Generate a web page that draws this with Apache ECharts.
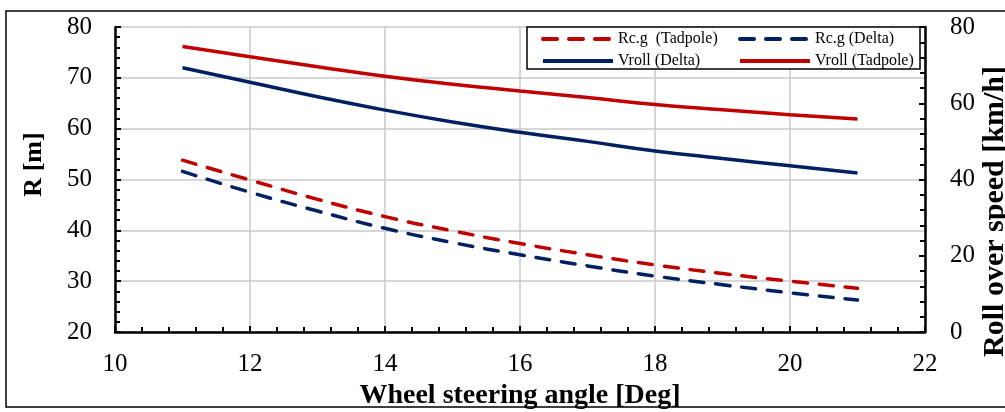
<!DOCTYPE html>
<html>
<head>
<meta charset="utf-8">
<script src="https://cdn.jsdelivr.net/npm/echarts@6/dist/echarts.min.js"></script>
<style>
  html, body { margin: 0; padding: 0; background: #fff; }
  #chart { width: 1005px; height: 412px; }
</style>
</head>
<body>
<div id="chart"></div>
<script>
// steering angle [deg]
const angles = [11, 12, 13, 14, 15, 16, 17, 18, 19, 20, 21]
// R [m] - left axis
const rcgTadpole = [53.8, 49.9, 46.1, 42.7, 39.9, 37.4, 35.2, 33.2, 31.5, 30.0, 28.6]
const rcgDelta = [51.6, 47.5, 43.8, 40.4, 37.6, 35.2, 33.0, 31.0, 29.3, 27.7, 26.3]
// roll over speed [km/h] - right axis
const vrollDelta = [69.3, 65.5, 61.7, 58.2, 55.1, 52.4, 50.0, 47.5, 45.5, 43.6, 41.7]
const vrollTadpole = [74.9, 72.2, 69.6, 67.1, 65.0, 63.2, 61.5, 59.7, 58.3, 57.0, 55.9]

const RED = '#C00000'
const NAVY = '#002060'
const FONT = '"Liberation Serif", "Times New Roman", serif'

const pairs = (ys) => angles.map((x, i) => [x, ys[i]])

const chart = echarts.init(document.getElementById('chart'))

const legendBase = {
  orient: 'horizontal',
  padding: 0,
  itemWidth: 70,
  itemHeight: 14,
  itemGap: 0,
  z: 20,
  selectedMode: false,
  itemStyle: { opacity: 0 }, // hide the circle, keep only the line sample
  lineStyle: { width: 4 },
  textStyle: { fontFamily: FONT, fontSize: 16, color: '#000' }
}

const axisLabel = { fontFamily: FONT, fontSize: 25, color: '#000' }
const axisName = { fontFamily: FONT, fontWeight: 'bold', color: '#000' }
const tickStyle = { color: '#000', width: 2 }

const option = {
  animation: false,
  backgroundColor: '#fff',
  grid: { left: 115, right: 80, top: 27, bottom: 80, outerBoundsMode: 'none' },
  legend: [
    { ...legendBase, left: 541, top: 31, data: ['Rc.g  (Tadpole)'] },
    { ...legendBase, left: 738, top: 31, data: ['Rc.g (Delta)'] },
    { ...legendBase, left: 541, top: 53, data: ['Vroll (Delta)'] },
    { ...legendBase, left: 738, top: 53, data: ['Vroll (Tadpole)'] }
  ],
  graphic: [
    {
      type: 'rect',
      z: 0,
      shape: { x: 6, y: 11, width: 1010, height: 396 },
      style: { fill: 'none', stroke: '#000', lineWidth: 1.5 },
      silent: true
    },
    {
      type: 'rect',
      z: 10,
      shape: { x: 527, y: 27, width: 393, height: 42 },
      style: { fill: '#fff', stroke: '#000', lineWidth: 1.5 },
      silent: true
    }
  ],
  xAxis: {
    type: 'value',
    min: 10,
    max: 22,
    interval: 2,
    name: 'Wheel steering angle [Deg]',
    nameLocation: 'middle',
    nameGap: 44,
    nameTextStyle: { ...axisName, fontSize: 28 },
    axisLine: { lineStyle: { color: '#000', width: 2.5 } },
    axisTick: { inside: true, length: 6, lineStyle: tickStyle },
    minorTick: { show: true, splitNumber: 5, length: 5, lineStyle: tickStyle },
    axisLabel: { ...axisLabel, margin: 20 },
    splitLine: { show: true, lineStyle: { color: '#c8c8c8', width: 1.5 } }
  },
  yAxis: [
    {
      type: 'value',
      min: 20,
      max: 80,
      interval: 10,
      name: 'R [m]',
      nameLocation: 'middle',
      nameGap: 68,
      nameTextStyle: { ...axisName, fontSize: 26, padding: [0, 0, 0, 30] },
      axisLine: { show: true, lineStyle: { color: '#000', width: 2.5 } },
      axisTick: { show: true, inside: true, length: 6, lineStyle: tickStyle },
      minorTick: { show: true, splitNumber: 5, length: 5, lineStyle: tickStyle },
      axisLabel: { ...axisLabel, margin: 23 },
      splitLine: { show: true, lineStyle: { color: '#c8c8c8', width: 1.5 } }
    },
    {
      type: 'value',
      position: 'right',
      min: 0,
      max: 80,
      interval: 20,
      name: 'Roll over speed [km/h]',
      nameLocation: 'middle',
      nameGap: 55,
      nameMoveOverlap: false,
      nameTextStyle: { ...axisName, fontSize: 30, padding: [0, 64, 0, 0] },
      axisLine: { show: true, lineStyle: { color: '#000', width: 2.5 } },
      axisTick: { show: true, inside: true, length: 6, lineStyle: tickStyle },
      minorTick: { show: true, splitNumber: 5, length: 5, lineStyle: tickStyle },
      axisLabel: { ...axisLabel, margin: 25 },
      splitLine: { show: false }
    }
  ],
  series: [
    {
      name: 'Rc.g  (Tadpole)',
      type: 'line',
      yAxisIndex: 0,
      smooth: true,
      symbol: 'none',
      lineStyle: { color: RED, width: 3.5, type: [14, 12], cap: 'round' },
      itemStyle: { color: RED },
      data: pairs(rcgTadpole)
    },
    {
      name: 'Rc.g (Delta)',
      type: 'line',
      yAxisIndex: 0,
      smooth: true,
      symbol: 'none',
      lineStyle: { color: NAVY, width: 3.5, type: [14, 12], cap: 'round' },
      itemStyle: { color: NAVY },
      data: pairs(rcgDelta)
    },
    {
      name: 'Vroll (Delta)',
      type: 'line',
      yAxisIndex: 1,
      smooth: true,
      symbol: 'none',
      lineStyle: { color: NAVY, width: 3.5 },
      itemStyle: { color: NAVY },
      data: pairs(vrollDelta)
    },
    {
      name: 'Vroll (Tadpole)',
      type: 'line',
      yAxisIndex: 1,
      smooth: true,
      symbol: 'none',
      lineStyle: { color: RED, width: 3.5 },
      itemStyle: { color: RED },
      data: pairs(vrollTadpole)
    }
  ]
}

chart.setOption(option)
</script>
</body>
</html>
